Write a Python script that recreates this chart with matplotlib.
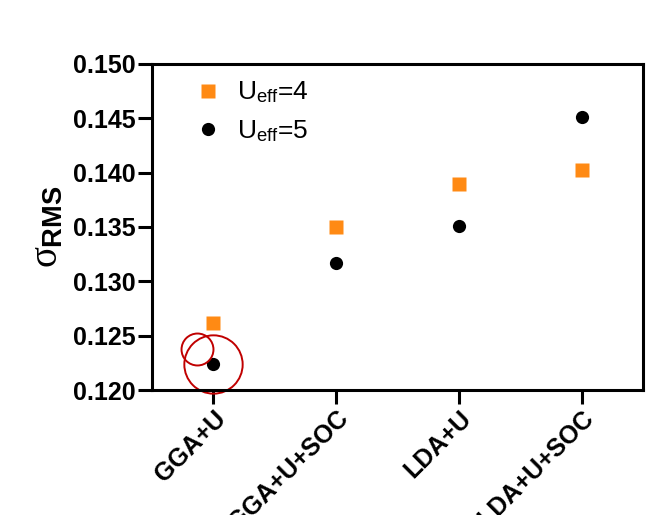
import matplotlib
matplotlib.use('Agg')
import matplotlib.pyplot as plt
import matplotlib.transforms as mtransforms

plt.rcParams['font.family'] = ['Liberation Sans', 'DejaVu Sans']
plt.rcParams['mathtext.fontset'] = 'custom'
plt.rcParams['mathtext.rm'] = 'Liberation Serif'
plt.rcParams['mathtext.it'] = 'Liberation Serif'
plt.rcParams['mathtext.bf'] = 'Liberation Sans:bold'
plt.rcParams['mathtext.sf'] = 'Liberation Sans'

methods = ['GGA+U', 'GGA+U+SOC', 'LDA+U', 'LDA+U+SOC']
sigma_u4 = [0.1262, 0.1350, 0.1390, 0.1402]
sigma_u5 = [0.1224, 0.1317, 0.1351, 0.1451]
yticks = [0.120, 0.125, 0.130, 0.135, 0.140, 0.145, 0.150]

orange = '#ff8a14'
red = '#c00000'

fig = plt.figure(figsize=(6.48, 5.15), dpi=100)
ax = fig.add_axes([152 / 648, 1 - 390 / 515, 491 / 648, 326 / 515])

x = list(range(len(methods)))
ax.plot(x, sigma_u4, 's', color=orange, ms=9.5, mec='none', label=r'U$_{\mathsf{eff}}$=4')
ax.plot(x, sigma_u5, 'o', color='black', ms=9.5, mec='none', label=r'U$_{\mathsf{eff}}$=5')

# red annotation rings around the GGA+U point
ax.plot(x[0], sigma_u5[0], 'o', ms=42, mfc='none', mec=red, mew=1.4, clip_on=False)
shift = mtransforms.offset_copy(ax.transData, fig=fig, x=-11.5, y=10.5, units='points')
ax.plot(x[0], sigma_u5[0], 'o', ms=23, mfc='none', mec=red, mew=1.4,
        transform=shift, clip_on=False)

ax.set_xlim(-0.5, 3.5)
ax.set_ylim(0.120, 0.150)
ax.set_yticks(yticks)
ax.set_yticklabels([f'{v:.3f}' for v in yticks], fontsize=18, fontweight='bold')
ax.set_xticks(x)
ax.set_xticklabels(methods, fontsize=18, fontweight='bold', rotation=45,
                   ha='right', va='top', rotation_mode='anchor')

for s in ax.spines.values():
    s.set_linewidth(2.2)
ax.tick_params(axis='both', width=2.2, length=10, direction='out', pad=1.5)

ax.set_ylabel(r'$\sigma_{\mathbf{RMS}}$', fontsize=28, labelpad=6)

ax.legend(loc='upper left', frameon=False, fontsize=19, handletextpad=0.5,
          borderaxespad=0.2, bbox_to_anchor=(0.05, 1.0), labelspacing=0.5,
          handlelength=1.2)

fig.savefig('out.png', dpi=100)
